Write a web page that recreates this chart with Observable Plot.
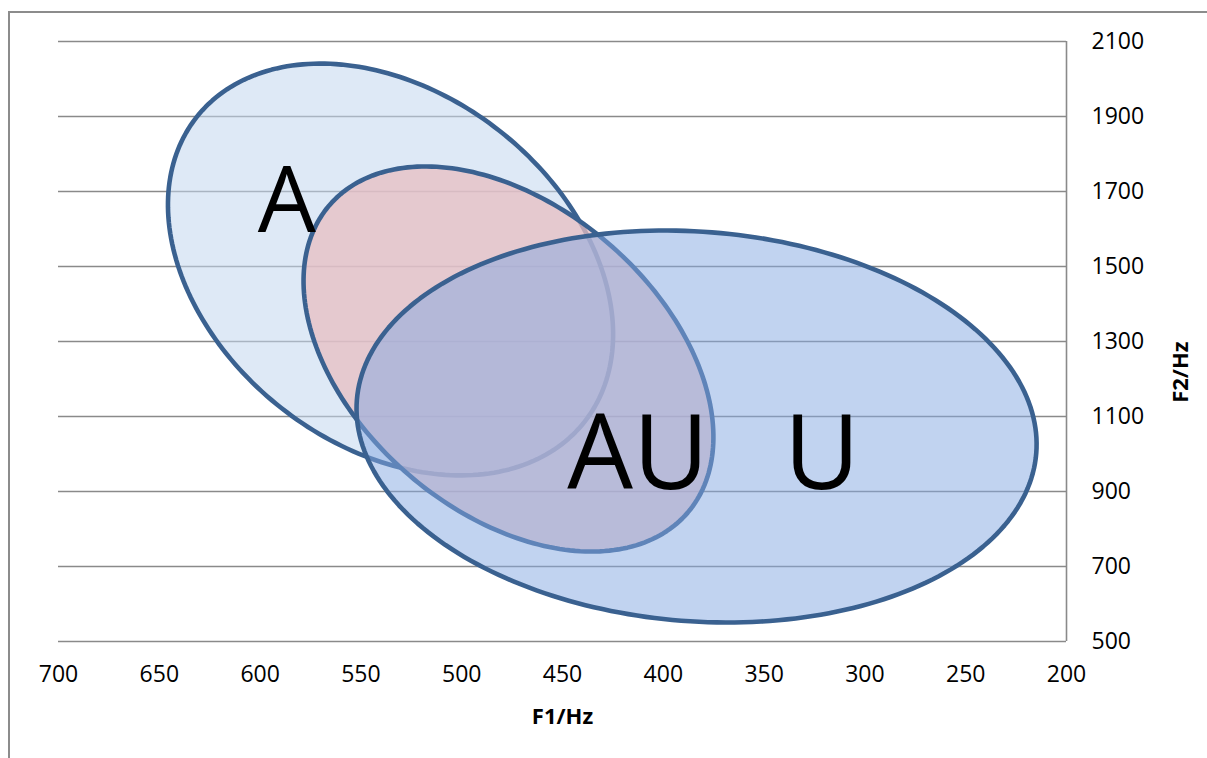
<!DOCTYPE html>
<html>
<head>
<meta charset="utf-8">
<script src="https://cdn.jsdelivr.net/npm/d3@7"></script>
<script src="https://cdn.jsdelivr.net/npm/@observablehq/plot@0.6"></script>
<style>
  html, body { margin: 0; padding: 0; background: #fff; overflow: hidden; width: 1207px; height: 758px; }
  #frame { position: absolute; left: 8px; top: 11px; width: 1400px; height: 1000px; border-left: 2px solid #8c8c8c; border-top: 2px solid #8c8c8c; box-sizing: border-box; }
  #chart { position: absolute; left: 0; top: 0; }
</style>
</head>
<body>
<div id="frame"></div>
<div id="chart"></div>
<script>
// Axis ticks
const xTicks = [700, 650, 600, 550, 500, 450, 400, 350, 300, 250, 200];
const yTicks = [500, 700, 900, 1100, 1300, 1500, 1700, 1900, 2100];

// Ellipses (vowel regions): centre, end of major semi-axis, end of minor semi-axis (Hz)
const ellipseNames = ["A", "AU", "U"];
const centerF1 = [535.3, 476.8, 383.5];
const centerF2 = [1492, 1253.3, 1073.3];
const majorEndF1 = [439.0, 387.9, 215.0];
const majorEndF2 = [1086.4, 843.7, 1002.4];
const minorEndF1 = [589.3, 526.1, 391.1];
const minorEndF2 = [1121.9, 943.7, 555.5];
const ellipseFill = ["#c3d7ef", "#e7bdc2", "#83a7e1"];
const ellipseOpacity = [0.55, 0.75, 0.5];

// Region labels
const labelText = ["A", "AU", "U"];
const labelF1 = [586.7, 412.5, 321.3];
const labelF2 = [1671, 996, 996];
const labelSize = [92, 104, 104];

function outline(i) {
  const N = 240;
  return d3.range(N).map(k => {
    const t = 2 * Math.PI * k / N, c = Math.cos(t), s = Math.sin(t);
    return {
      name: ellipseNames[i],
      f1: centerF1[i] + (majorEndF1[i] - centerF1[i]) * c + (minorEndF1[i] - centerF1[i]) * s,
      f2: centerF2[i] + (majorEndF2[i] - centerF2[i]) * c + (minorEndF2[i] - centerF2[i]) * s
    };
  });
}

const stroke = "#3a6190";
const marks = [
  Plot.ruleY(yTicks, {stroke: "#8a8a8a", strokeWidth: 1.6}),
  Plot.ruleX([200], {y1: 500, y2: 2100, stroke: "#8a8a8a", strokeWidth: 1.6})
];
ellipseNames.forEach((n, i) => {
  marks.push(Plot.line(outline(i), {
    x: "f1", y: "f2", curve: "linear-closed",
    fill: ellipseFill[i], fillOpacity: ellipseOpacity[i],
    stroke, strokeWidth: 4.6
  }));
});
labelText.forEach((t, i) => {
  marks.push(Plot.text([t], {
    x: () => labelF1[i], y: () => labelF2[i], text: d => d,
    fontSize: labelSize[i], fill: "black", textAnchor: "middle", lineAnchor: "middle"
  }));
});
marks.push(
  Plot.axisX({ticks: xTicks, tickFormat: d => String(d), tickSize: 0, tickPadding: 24, label: null, fontSize: 23}),
  Plot.axisY({ticks: yTicks, tickFormat: d => String(d), anchor: "right", tickSize: 0, tickPadding: 25, label: null, fontSize: 23}),
  Plot.text(["F1/Hz"], {frameAnchor: "bottom", dy: 75, fontWeight: "bold", fontSize: 22, lineAnchor: "middle"}),
  Plot.text(["F2/Hz"], {frameAnchor: "right", dx: 114, rotate: -90, fontWeight: "bold", fontSize: 22, lineAnchor: "middle"})
);

const chart = Plot.plot({
  width: 1207,
  height: 758,
  marginLeft: 58,
  marginRight: 141,
  marginTop: 41,
  marginBottom: 117,
  x: {domain: [700, 200]},
  y: {domain: [500, 2100]},
  style: {fontFamily: "'Open Sans', sans-serif", fontSize: "23px", color: "black", background: "transparent", overflow: "visible"},
  marks
});
document.getElementById("chart").appendChild(chart);
</script>
</body>
</html>
